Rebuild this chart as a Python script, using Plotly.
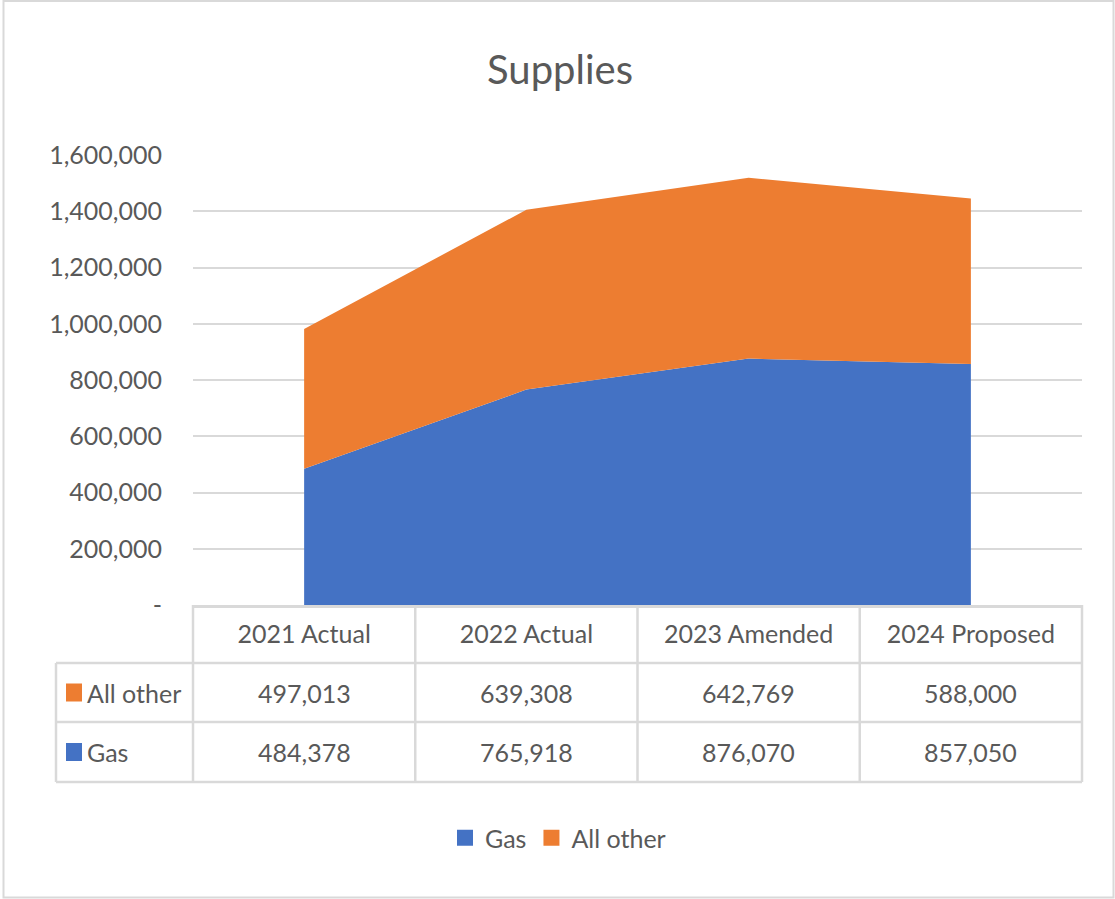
import plotly.graph_objects as go

# ---- data ----
categories = ["2021 Actual", "2022 Actual", "2023 Amended", "2024 Proposed"]
gas = [484378, 765918, 876070, 857050]
all_other = [497013, 639308, 642769, 588000]
series_names = ["Gas", "All other"]
ytick_vals = [0, 200000, 400000, 600000, 800000, 1000000, 1200000, 1400000, 1600000]
ytick_text = ["-", "200,000", "400,000", "600,000", "800,000", "1,000,000",
              "1,200,000", "1,400,000", "1,600,000"]

# ---- style ----
BLUE = "#4472C4"
ORANGE = "#ED7D31"
TXT = "#595959"
GRID = "#D9D9D9"
FONT = "Lato, 'Open Sans', sans-serif"

W, H = 1115, 899
ML, MR, MT, MB = 193, 33, 155, 294
PW = W - ML - MR
PH = H - MT - MB


def py(pix):  # pixel y -> paper y
    return (H - MB - pix) / PH


def px(pix):  # pixel x -> x-domain fraction
    return (pix - ML) / PW


fig = go.Figure()
fig.add_trace(go.Scatter(x=categories, y=gas, name=series_names[0], stackgroup="one",
                         mode="lines", line=dict(width=0, color=BLUE), fillcolor=BLUE,
                         showlegend=False, hoverinfo="x+y+name"))
fig.add_trace(go.Scatter(x=categories, y=all_other, name=series_names[1], stackgroup="one",
                         mode="lines", line=dict(width=0, color=ORANGE), fillcolor=ORANGE,
                         showlegend=False, hoverinfo="x+y+name"))
# legend entries
for nm, col in zip(series_names, [BLUE, ORANGE]):
    fig.add_trace(go.Scatter(x=[None], y=[None], mode="markers", name=nm,
                             marker=dict(symbol="square", size=16, color=col)))

shapes = []
annotations = []
# table geometry (pixels)
row_lines = [663, 722, 782]
table_left = 56
row_c = [692.5, 752]
row_series = [(series_names[1], all_other, ORANGE), (series_names[0], gas, BLUE)]

line = dict(color=GRID, width=2.5)
for yl in row_lines:
    shapes.append(dict(type="line", xref="x domain", yref="paper",
                       x0=px(table_left), x1=1, y0=py(yl), y1=py(yl), line=line))
shapes.append(dict(type="line", xref="x domain", yref="paper",
                   x0=px(table_left), x1=px(table_left), y0=py(row_lines[0]), y1=py(row_lines[-1]), line=line))
for k in range(len(categories) + 1):
    xk = k / len(categories)
    shapes.append(dict(type="line", xref="x domain", yref="paper",
                       x0=xk, x1=xk, y0=0, y1=py(row_lines[-1]), line=line))

for (nm, vals, col), yc in zip(row_series, row_c):
    shapes.append(dict(type="rect", xref="x domain", yref="paper",
                       x0=px(66), x1=px(82), y0=py(yc + 9), y1=py(yc - 9),
                       fillcolor=col, line=dict(width=0)))
    annotations.append(dict(xref="x domain", yref="paper", x=px(85), y=py(yc),
                            text=nm, showarrow=False, xanchor="left", yanchor="middle",
                            font=dict(size=25, color=TXT, family=FONT)))
    for c, v in zip(categories, vals):
        annotations.append(dict(xref="x", yref="paper", x=c, y=py(yc),
                                text=f"{v:,}", showarrow=False, xanchor="center",
                                yanchor="middle", font=dict(size=25, color=TXT, family=FONT)))

# outer chart border
shapes.append(dict(type="rect", xref="x domain", yref="paper",
                   x0=px(3.5), x1=px(1113.5), y0=py(897.5), y1=py(1),
                   line=dict(color=GRID, width=2)))

fig.update_layout(
    width=W, height=H,
    margin=dict(l=ML, r=MR, t=MT, b=MB),
    paper_bgcolor="white", plot_bgcolor="white",
    font=dict(family=FONT, color=TXT, size=25),
    title=dict(text="Supplies", x=560 / W, xref="container", xanchor="center",
               y=1 - 70 / H, yref="container", yanchor="middle",
               font=dict(size=40, color=TXT, family=FONT)),
    xaxis=dict(type="category", range=[-0.5, len(categories) - 0.5],
               showgrid=False, zeroline=False, showline=True, linecolor=GRID, linewidth=2.5,
               ticks="", tickfont=dict(size=25, color=TXT), ticklabelstandoff=5),
    yaxis=dict(range=[0, 1600000], tickvals=ytick_vals, ticktext=ytick_text,
               showgrid=True, gridcolor=GRID, gridwidth=2, zeroline=False, showline=False,
               ticks="", tickfont=dict(size=25, color=TXT), ticklabelstandoff=30),
    legend=dict(orientation="h", x=px(558), xref="paper", xanchor="center",
                y=py(838), yanchor="middle", font=dict(size=25, color=TXT),
                itemsizing="trace", traceorder="normal", bgcolor="rgba(0,0,0,0)"),
    shapes=shapes, annotations=annotations,
    showlegend=True,
)

fig.write_html("out.html", config={"displayModeBar": False},
               post_script="document.body.style.margin='0';document.body.style.overflow='hidden';")
